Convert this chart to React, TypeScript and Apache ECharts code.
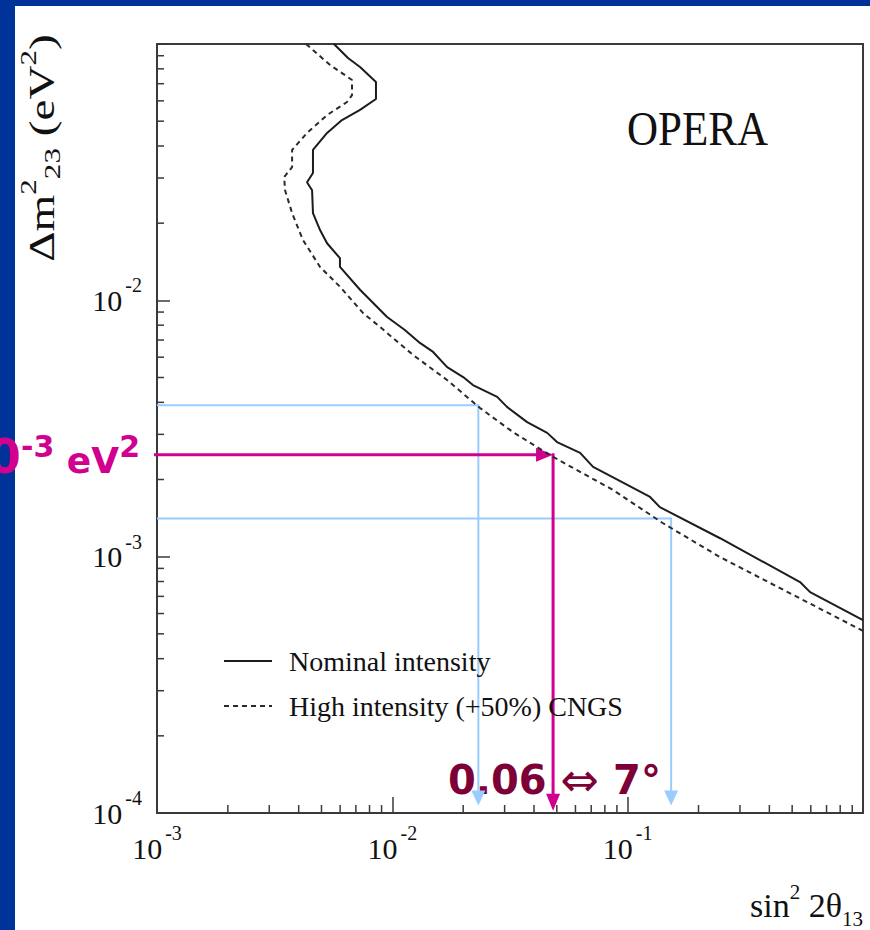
import React, { useEffect, useRef } from 'react';
import * as echarts from 'echarts';

// ---------- axis ranges ----------
const X_MIN = 1e-3;
const X_MAX = 1;
const Y_MIN = 1e-4;
const Y_MAX = 1e-1;

// ---------- curve data (sin^2 2θ13 , Δm^2_23) ----------
const nominalX = [0.00565, 0.00648, 0.00729, 0.00852, 0.00852, 0.00729, 0.00611, 0.00528, 0.0046, 0.0046, 0.00434, 0.00456, 0.0046, 0.00493, 0.00528, 0.00599, 0.00599, 0.00729, 0.0095, 0.0113, 0.0131, 0.0149, 0.0171, 0.02, 0.022, 0.0279, 0.0307, 0.0374, 0.0455, 0.0501, 0.0628, 0.0713, 0.0867, 0.1245, 0.137, 0.247, 0.54, 0.596, 1.0];
const nominalY = [0.1, 0.0882, 0.0813, 0.0711, 0.061, 0.0553, 0.0505, 0.045, 0.0386, 0.0314, 0.0289, 0.0269, 0.0219, 0.0188, 0.0167, 0.0146, 0.0135, 0.011, 0.00861, 0.00766, 0.00682, 0.00629, 0.00549, 0.00502, 0.00467, 0.0042, 0.00384, 0.00335, 0.00304, 0.0028, 0.00254, 0.00224, 0.00204, 0.00171, 0.00156, 0.00118, 0.000796, 0.000727, 0.000566];

const highX = [0.0043, 0.00544, 0.00674, 0.00674, 0.00642, 0.00528, 0.00434, 0.00375, 0.00375, 0.00347, 0.0035, 0.00375, 0.00417, 0.00493, 0.00599, 0.00751, 0.00887, 0.01225, 0.01708, 0.02359, 0.03258, 0.04819, 0.0867, 0.1414, 0.247, 1.0];
const highY = [0.1, 0.0828, 0.0724, 0.0632, 0.0594, 0.0528, 0.045, 0.0386, 0.0331, 0.0303, 0.0269, 0.0219, 0.0172, 0.0135, 0.0113, 0.00892, 0.00787, 0.00612, 0.00489, 0.0038, 0.00306, 0.00245, 0.00182, 0.00135, 0.000996, 0.000513];

// ---------- minor tick values ----------
const xMinorTicks = [0.002, 0.003, 0.004, 0.005, 0.006, 0.007, 0.008, 0.009, 0.02, 0.03, 0.04, 0.05, 0.06, 0.07, 0.08, 0.09, 0.2, 0.3, 0.4, 0.5, 0.6, 0.7, 0.8, 0.9];
const yMinorTicks = [0.0002, 0.0003, 0.0004, 0.0005, 0.0006, 0.0007, 0.0008, 0.0009, 0.002, 0.003, 0.004, 0.005, 0.006, 0.007, 0.008, 0.009, 0.02, 0.03, 0.04, 0.05, 0.06, 0.07, 0.08, 0.09];

// ---------- guide lines ----------
const blueCrossX = [0.0232, 0.153];
const blueLevelY = [0.0039, 0.00141];
const blueArrowTipY = 1.07e-4;
const magentaCrossX = [0.0482];
const magentaLevelY = [0.0025];
const magentaArrowTipY = 1.02e-4;

// ---------- labels ----------
const legendNames = ['Nominal intensity', 'High intensity (+50%) CNGS'];
const experimentLabel = 'OPERA';

const SERIF = "'Liberation Serif', 'Times New Roman', Times, serif";
const SANS = "'DejaVu Sans', Verdana, Tahoma, sans-serif";
const AXIS = '#3a3a3a';
const BLUE_GUIDE = '#99ccff';
const MAGENTA = '#d1008f';
const MAROON = '#7d0036';
const FRAME_BLUE = '#00339a';

function makeTickLabel(maxValue: number) {
  return (v: number) => {
    if (v >= maxValue * 0.99) return '';
    const e = Math.round(Math.log10(v));
    return `{m|10}{s|${e}}`;
  };
}

const tickRich = {
  m: { fontFamily: SERIF, fontSize: 30, lineHeight: 30, color: '#111' },
  s: { fontFamily: SERIF, fontSize: 20, lineHeight: 20, color: '#111', padding: [0, 0, 30, 3] },
};

function makeGuide(color: string, lw: number, headW: number, headL: number, cornerArrow: boolean) {
  return (params: any, api: any) => {
    const cross = api.value(0);
    const level = api.value(1);
    const tip = api.value(2);
    const a = api.coord([X_MIN, level]);
    const b = api.coord([cross, level]);
    const c = api.coord([cross, tip]);
    const hStart = cornerArrow ? a[0] - 3 : a[0];
    const hEnd = cornerArrow ? b[0] - headL + 1 : b[0];
    const children: any[] = [
      { type: 'line', shape: { x1: hStart, y1: a[1], x2: hEnd, y2: b[1] }, style: { stroke: color, lineWidth: lw } },
      { type: 'line', shape: { x1: b[0], y1: b[1] - lw / 2, x2: c[0], y2: c[1] - headL + 1 }, style: { stroke: color, lineWidth: lw } },
      {
        type: 'polygon',
        shape: { points: [[c[0] - headW / 2, c[1] - headL], [c[0] + headW / 2, c[1] - headL], [c[0], c[1]]] },
        style: { fill: color },
      },
    ];
    if (cornerArrow) {
      children.push({
        type: 'polygon',
        shape: { points: [[b[0] - headL, b[1] - headW / 2], [b[0] - headL, b[1] + headW / 2], [b[0], b[1]]] },
        style: { fill: color },
      });
    }
    return { type: 'group', children };
  };
}

export default function App() {
  const ref = useRef<HTMLDivElement>(null);

  useEffect(() => {
    if (!ref.current) return;
    const chart = echarts.init(ref.current, undefined, { renderer: 'svg' });

    const option: any = {
      animation: false,
      backgroundColor: '#ffffff',
      grid: {
        left: 157,
        top: 44,
        right: 7,
        bottom: 117,
        show: true,
        borderColor: AXIS,
        borderWidth: 2,
        backgroundColor: 'transparent',
        containLabel: false,
        outerBoundsMode: 'none',
      },
      legend: {
        orient: 'vertical',
        left: 218,
        top: 642,
        itemWidth: 48,
        itemHeight: 12,
        itemGap: 17,
        selectedMode: false,
        itemStyle: { opacity: 0 },
        textStyle: { fontFamily: SERIF, fontSize: 28, color: '#111', padding: [0, 0, 0, 12] },
        data: legendNames,
      },
      xAxis: {
        type: 'log',
        logBase: 10,
        min: X_MIN,
        max: X_MAX,
        axisLine: { show: true, lineStyle: { color: AXIS, width: 2 } },
        axisTick: { show: true, inside: true, length: 16, lineStyle: { color: AXIS, width: 1.5 } },
        minorTick: { show: false },
        splitLine: { show: false },
        axisLabel: { formatter: makeTickLabel(X_MAX), rich: tickRich, margin: 20, showMaxLabel: false, showMinLabel: true },
      },
      yAxis: {
        type: 'log',
        logBase: 10,
        min: Y_MIN,
        max: Y_MAX,
        axisLine: { show: true, lineStyle: { color: AXIS, width: 2 } },
        axisTick: { show: true, inside: true, length: 13, lineStyle: { color: AXIS, width: 1.5 } },
        minorTick: { show: false },
        splitLine: { show: false },
        axisLabel: { formatter: makeTickLabel(Y_MAX), rich: tickRich, margin: 15, showMaxLabel: false, showMinLabel: true },
      },
      series: [
        {
          type: 'custom',
          name: 'xMinor',
          silent: true,
          z: 5,
          data: xMinorTicks.map((v) => [v, Y_MIN]),
          renderItem: (params: any, api: any) => {
            const p = api.coord([api.value(0), Y_MIN]);
            return { type: 'line', shape: { x1: p[0], y1: p[1], x2: p[0], y2: p[1] - 8 }, style: { stroke: AXIS, lineWidth: 1.5 } };
          },
        },
        {
          type: 'custom',
          name: 'yMinor',
          silent: true,
          z: 5,
          data: yMinorTicks.map((v) => [X_MIN, v]),
          renderItem: (params: any, api: any) => {
            const p = api.coord([X_MIN, api.value(1)]);
            return { type: 'line', shape: { x1: p[0], y1: p[1], x2: p[0] + 7, y2: p[1] }, style: { stroke: AXIS, lineWidth: 1.5 } };
          },
        },
        {
          type: 'custom',
          name: 'blueGuides',
          silent: true,
          z: 3,
          data: blueCrossX.map((x, i) => [x, blueLevelY[i], blueArrowTipY]),
          renderItem: makeGuide(BLUE_GUIDE, 2, 14, 15, false),
        },
        {
          type: 'custom',
          name: 'magentaGuide',
          silent: true,
          z: 3,
          data: magentaCrossX.map((x, i) => [x, magentaLevelY[i], magentaArrowTipY]),
          renderItem: makeGuide(MAGENTA, 3, 14, 17, true),
        },
        {
          type: 'line',
          name: legendNames[0],
          data: nominalX.map((x, i) => [x, nominalY[i]]),
          symbol: 'none',
          showSymbol: false,
          silent: true,
          z: 4,
          lineStyle: { color: '#1c1c1c', width: 2 },
          itemStyle: { color: '#1c1c1c' },
        },
        {
          type: 'line',
          name: legendNames[1],
          data: highX.map((x, i) => [x, highY[i]]),
          symbol: 'none',
          showSymbol: false,
          silent: true,
          z: 4,
          lineStyle: { color: '#2a2a2a', width: 2, type: [5, 4] },
          itemStyle: { color: '#2a2a2a' },
        },
      ],
      graphic: [
        { type: 'rect', z: 0, silent: true, shape: { x: 0, y: 0, width: 15, height: 930 }, style: { fill: FRAME_BLUE } },
        { type: 'rect', z: 0, silent: true, shape: { x: 0, y: 0, width: 870, height: 6 }, style: { fill: FRAME_BLUE } },
        {
          type: 'text',
          z: 10,
          x: 627,
          y: 129,
          scaleY: 1.12,
          style: { text: experimentLabel, fontFamily: SERIF, fontSize: 43, fill: '#111', align: 'left', verticalAlign: 'middle' },
        },
        {
          type: 'text',
          z: 1,
          x: 140,
          y: 456,
          style: {
            text: '{big|0}{sup|-3}{mid| eV}{sup|2}',
            align: 'right',
            verticalAlign: 'middle',
            rich: {
              big: { fontFamily: SANS, fontWeight: 'bold', fontSize: 48, lineHeight: 48, fill: MAGENTA },
              sup: { fontFamily: SANS, fontWeight: 'bold', fontSize: 30, lineHeight: 30, fill: MAGENTA, padding: [0, 0, 20, 0] },
              mid: { fontFamily: SANS, fontWeight: 'bold', fontSize: 36, lineHeight: 36, fill: MAGENTA, padding: [8, 0, 0, 0] },
            },
          },
        },
        {
          type: 'text',
          z: 1,
          x: 448,
          y: 780,
          style: {
            text: '{n|0.06 }{a|⇔}{n| 7°}',
            align: 'left',
            verticalAlign: 'middle',
            rich: {
              n: { fontFamily: SANS, fontWeight: 'bold', fontSize: 40, lineHeight: 46, fill: MAROON },
              a: { fontFamily: SANS, fontWeight: 'normal', fontSize: 46, lineHeight: 46, fill: MAROON },
            },
          },
        },
        {
          type: 'text',
          z: 10,
          x: 863,
          y: 905,
          style: {
            text: '{t|sin}{p|2}{t| 2θ}{b|13}',
            align: 'right',
            verticalAlign: 'middle',
            rich: {
              t: { fontFamily: SERIF, fontSize: 34, lineHeight: 34, fill: '#111' },
              p: { fontFamily: SERIF, fontSize: 21, lineHeight: 21, fill: '#111', padding: [0, 0, 27, 0] },
              b: { fontFamily: SERIF, fontSize: 21, lineHeight: 21, fill: '#111', padding: [27, 0, 0, 0] },
            },
          },
        },
        {
          type: 'text',
          z: 10,
          x: 42,
          y: 148,
          rotation: Math.PI / 2,
          scaleX: 1.35,
          style: {
            text: '{b|Δm}{s|2}{u|23}{b| (eV}{s|2}{b|)}',
            align: 'center',
            verticalAlign: 'middle',
            rich: {
              b: { fontFamily: SERIF, fontSize: 35, lineHeight: 35, fill: '#111' },
              s: { fontFamily: SERIF, fontSize: 23, lineHeight: 23, fill: '#111', padding: [0, 0, 28, 0] },
              u: { fontFamily: SERIF, fontSize: 23, lineHeight: 23, fill: '#111', padding: [20, 0, 0, 0] },
            },
          },
        },
      ],
    };

    chart.setOption(option);
    return () => {
      chart.dispose();
    };
  }, []);

  return <div ref={ref} style={{ position: 'absolute', left: 0, top: 0, width: 870, height: 930 }} />;
}
